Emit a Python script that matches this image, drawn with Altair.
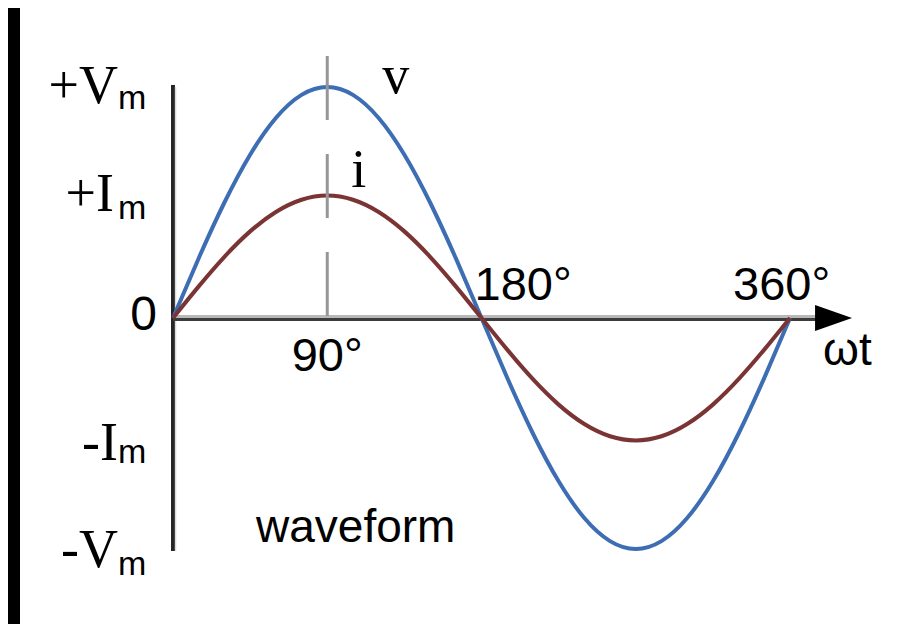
import altair as alt
import pandas as pd

# ---- data ----
deg = [0, 15, 30, 45, 60, 75, 90, 105, 120, 135, 150, 165, 180,
       195, 210, 225, 240, 255, 270, 285, 300, 315, 330, 345, 360]
v_vals = [0, 0.259, 0.500, 0.707, 0.866, 0.966, 1.000, 0.966, 0.866, 0.707, 0.500, 0.259, 0,
          -0.259, -0.500, -0.707, -0.866, -0.966, -1.000, -0.966, -0.866, -0.707, -0.500, -0.259, 0]
i_vals = [0, 0.137, 0.265, 0.375, 0.459, 0.512, 0.530, 0.512, 0.459, 0.375, 0.265, 0.137, 0,
          -0.137, -0.265, -0.375, -0.459, -0.512, -0.530, -0.512, -0.459, -0.375, -0.265, -0.137, 0]
Vm = 1.0
Im = 0.53
y_label_values = [Vm, Im, -Im, -Vm]
y_label_text = ["+V", "+I", "-I", "-V"]
y_label_sub = ["m", "m", "m", "m"]
x_label_values = [90, 180, 360]
x_label_text = ["90°", "180°", "360°"]

BLUE = "#3d6db3"
RED = "#7a3434"
SERIF = "Liberation Serif"
SANS = "Liberation Sans"

xs = alt.Scale(domain=[0, 360], nice=False, zero=False)
ys = alt.Scale(domain=[-1, 1], nice=False, zero=False)


def X(f="x:Q"):
    return alt.X(f, scale=xs, axis=None)


def Y(f="y:Q"):
    return alt.Y(f, scale=ys, axis=None)


def label(text, x, y, dx, dy, font, size, align="left"):
    df = pd.DataFrame({"x": [x], "y": [y], "t": [text]})
    return alt.Chart(df).mark_text(
        font=font, fontSize=size, align=align, baseline="alphabetic",
        dx=dx, dy=dy, color="black"
    ).encode(x=X(), y=Y(), text="t:N")


layers = []

# black frame strip (left)
strip = pd.DataFrame({"a": [0]})
layers.append(alt.Chart(strip).mark_rect(color="black").encode(
    x=alt.value(-166), x2=alt.value(-153), y=alt.value(-80), y2=alt.value(540)))

# vertical axis
layers.append(alt.Chart(pd.DataFrame({"x": [0], "y": [1.009], "y2": [-1.009]}))
              .mark_rule(color="#262626", strokeWidth=4)
              .encode(x=X(), y=Y(), y2="y2:Q"))
layers.append(alt.Chart(pd.DataFrame({"x": [1.5], "y": [1.0], "y2": [-1.009]}))
              .mark_rule(color="#dcdcdc", strokeWidth=1.5)
              .encode(x=X(), y=Y(), y2="y2:Q"))

# horizontal axis (light top half, dark bottom half)
layers.append(alt.Chart(pd.DataFrame({"x": [0], "x2": [389], "y": [0.0065]}))
              .mark_rule(color="#b8b8b8", strokeWidth=3)
              .encode(x=X(), x2="x2:Q", y=Y()))
layers.append(alt.Chart(pd.DataFrame({"x": [0], "x2": [389], "y": [-0.0065]}))
              .mark_rule(color="#3c3c3c", strokeWidth=3)
              .encode(x=X(), x2="x2:Q", y=Y()))

# curves
vdf = pd.DataFrame({"x": deg, "y": v_vals})
idf = pd.DataFrame({"x": deg, "y": i_vals})
layers.append(alt.Chart(vdf).mark_line(color=BLUE, strokeWidth=4, interpolate="natural")
              .encode(x=X(), y=Y()))
layers.append(alt.Chart(idf).mark_line(color=RED, strokeWidth=4, interpolate="natural")
              .encode(x=X(), y=Y()))

# dashed 90 degree guide
layers.append(alt.Chart(pd.DataFrame({"x": [90], "y": [1.134], "y2": [0.008]}))
              .mark_rule(color="#969696", strokeWidth=3, strokeDash=[64, 34])
              .encode(x=X(), y=Y(), y2="y2:Q"))

# arrow head
layers.append(alt.Chart(pd.DataFrame({"x": [385.4], "y": [0]}))
              .mark_point(shape="M -1 -0.7 L 1 0 L -1 0.7 Z", size=1369,
                          filled=True, color="black", opacity=1)
              .encode(x=X(), y=Y()))

# y labels
y_dx = [-55, -59, -55, -55]
y_dy = [16, 15, 20, 18]
sub_dy = [22, 23, 23, 26]
for val, t, s, dx, dy, sdy in zip(y_label_values, y_label_text, y_label_sub, y_dx, y_dy, sub_dy):
    layers.append(label(t, 0, val, dx, dy, SERIF, 54, align="right"))
    layers.append(label(s, 0, val, -55, sdy, SANS, 34, align="left"))

layers.append(label("0", 0, 0, -16, 12, SANS, 48, align="right"))

# x labels
layers.append(label(x_label_text[0], x_label_values[0], 0, 0, 53, SANS, 47, align="center"))
layers.append(label(x_label_text[1], x_label_values[1], 0, -7, -18, SANS, 47, align="left"))
layers.append(label(x_label_text[2], x_label_values[2], 0, -57, -18, SANS, 47, align="left"))
layers.append(label("ωt", 360, 0, 33, 47, SANS, 46, align="left"))

# curve names
layers.append(label("v", 90, Vm, 55, 6, SERIF, 54, align="left"))
layers.append(label("i", 90, Im, 24, -9, SERIF, 54, align="left"))

# caption
layers.append(label("waveform", 0, -1, 83, -7, SANS, 46, align="left"))

chart = alt.layer(*layers).properties(
    width=617, height=462, background="white",
    padding={"left": 165, "top": 79, "right": 103, "bottom": 75},
    autosize=alt.AutoSizeParams(type="none"),
).configure_view(stroke=None)

chart.save("out.html", embed_options={"renderer": "svg", "actions": False})
